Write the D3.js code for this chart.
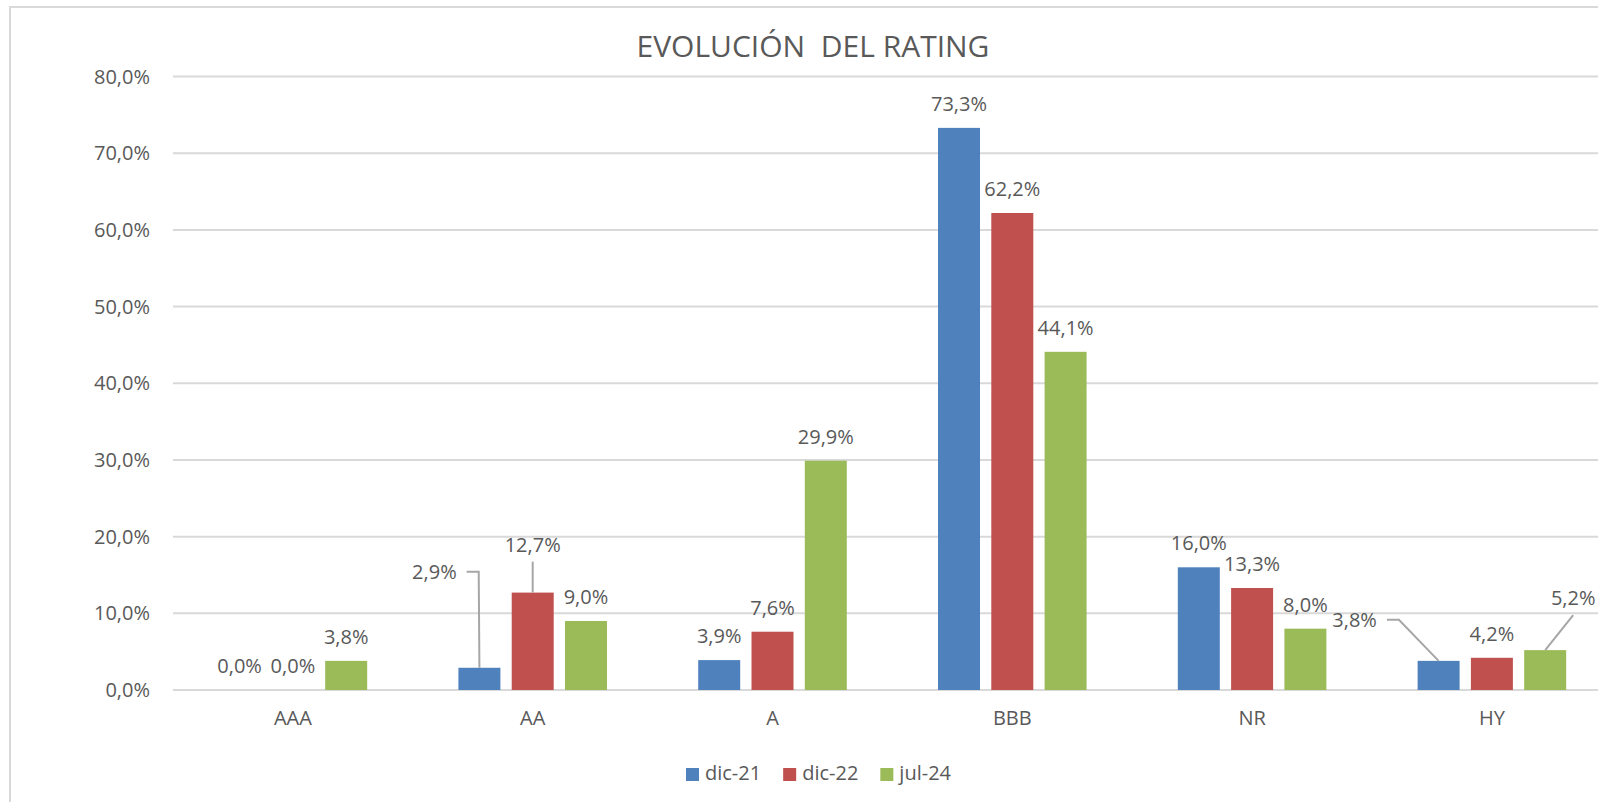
<!DOCTYPE html>
<html>
<head>
<meta charset="utf-8">
<script src="https://cdn.jsdelivr.net/npm/d3@7"></script>
<style>
    body { margin: 0; background: #fff; }
    text { font-family: "Open Sans", "Noto Sans", sans-serif; fill: #595959; }
</style>
</head>
<body>
<svg id="chart"></svg>
<script>
const categories = ["AAA", "AA", "A", "BBB", "NR", "HY"];
const seriesNames = ["dic-21", "dic-22", "jul-24"];
const dic21 = [0.0, 2.9, 3.9, 73.3, 16.0, 3.8];
const dic22 = [0.0, 12.7, 7.6, 62.2, 13.3, 4.2];
const jul24 = [3.8, 9.0, 29.9, 44.1, 8.0, 5.2];
const yTicks = [0, 10, 20, 30, 40, 50, 60, 70, 80];
const colors = ["#4f81bd", "#c0504d", "#9bbb59"];

// labels that Excel moved away from the bar, with a leader line
const movedLabels = [
    {cat: "AA", s: "dic-21", dx: -45, dy: -89, side: "left"},
    {cat: "AA", s: "dic-22", dx: 0, dy: -41, side: "top"},
    {cat: "HY", s: "dic-21", dx: -84, dy: -34, side: "left"},
    {cat: "HY", s: "jul-24", dx: 28, dy: -45, side: "top"}
];

const width = 1598;
const height = 802;
const seriesValues = [dic21, dic22, jul24];

const locale = d3.formatLocale({decimal: ",", thousands: ".", grouping: [3], currency: ["", "€"]});
const pct = v => locale.format(".1f")(v) + "%";

const svg = d3.select("#chart").attr("width", width).attr("height", height);

// chart area border
svg.append("rect")
    .attr("x", 10).attr("y", 7)
    .attr("width", 1640).attr("height", 820)
    .attr("fill", "#fff")
    .attr("stroke", "#d9d9d9")
    .attr("stroke-width", 2);

const x0 = d3.scaleBand().domain(categories).range([173, 173 + 6 * 239.8]);
const x1 = d3.scaleBand().domain(seriesNames).range([0, x0.bandwidth()])
    .paddingInner(0.212).paddingOuter(0.856);
const y = d3.scaleLinear().domain([0, 80]).range([690, 76.5]);

// gridlines
svg.append("g")
    .selectAll("line")
    .data(yTicks)
    .enter().append("line")
    .attr("x1", 173).attr("x2", width + 20)
    .attr("y1", d => y(d)).attr("y2", d => y(d))
    .attr("stroke", "#d9d9d9")
    .attr("stroke-width", 2);

// y tick labels
svg.append("g")
    .selectAll("text")
    .data(yTicks)
    .enter().append("text")
    .attr("x", 150)
    .attr("y", d => y(d))
    .attr("dy", "0.35em")
    .attr("text-anchor", "end")
    .style("font-size", "20px")
    .text(d => pct(d));

// x category labels
svg.append("g")
    .selectAll("text")
    .data(categories)
    .enter().append("text")
    .attr("x", d => x0(d) + x0.bandwidth() / 2)
    .attr("y", 725)
    .attr("text-anchor", "middle")
    .style("font-size", "20px")
    .text(d => d);

const points = [];
categories.forEach((c, i) => {
    seriesNames.forEach((s, j) => {
        points.push({cat: c, s: s, j: j, v: seriesValues[j][i]});
    });
});

const barX = d => x0(d.cat) + x1(d.s);
const barMid = d => barX(d) + x1.bandwidth() / 2;

svg.append("g")
    .selectAll("rect")
    .data(points)
    .enter().append("rect")
    .attr("x", barX)
    .attr("y", d => y(d.v))
    .attr("width", x1.bandwidth())
    .attr("height", d => y(0) - y(d.v))
    .attr("fill", d => colors[d.j]);

const labelGroup = svg.append("g");
const leaderGroup = svg.append("g");

points.forEach(d => {
    const move = movedLabels.find(m => m.cat === d.cat && m.s === d.s);
    const bx = barMid(d);
    const by = y(d.v);
    const lx = bx + (move ? move.dx : 0);
    const ly = by + (move ? move.dy : -17);
    const t = labelGroup.append("text")
        .attr("x", lx).attr("y", ly)
        .attr("text-anchor", "middle")
        .style("font-size", "20px")
        .text(pct(d.v));

    if (move) {
        const w = t.node().getComputedTextLength();
        let pts;
        if (move.side === "left") {
            const sx = lx + w / 2 + 10;
            const sy = ly - 7;
            pts = [[sx, sy], [sx + 12, sy], [bx, by]];
        } else {
            pts = [[lx, ly + 10], [bx, by]];
        }
        leaderGroup.append("path")
            .attr("d", d3.line()(pts))
            .attr("fill", "none")
            .attr("stroke", "#a6a6a6")
            .attr("stroke-width", 2);
    }
});

// title
svg.append("text")
    .attr("x", 813)
    .attr("y", 57)
    .attr("text-anchor", "middle")
    .attr("xml:space", "preserve")
    .style("font-size", "30px")
    .style("white-space", "pre")
    .text("EVOLUCIÓN  DEL RATING");

// legend
const legend = svg.append("g");
let lx = 0;
seriesNames.forEach((s, j) => {
    const item = legend.append("g").attr("transform", `translate(${lx},0)`);
    item.append("rect")
        .attr("x", 0).attr("y", -12)
        .attr("width", 13).attr("height", 13)
        .attr("fill", colors[j]);
    const t = item.append("text")
        .attr("x", 19).attr("y", 0)
        .style("font-size", "20px")
        .text(s);
    lx += 19 + t.node().getComputedTextLength() + 22;
});
const legendWidth = lx - 22;
legend.attr("transform", `translate(${818.5 - legendWidth / 2},780)`);
</script>
</body>
</html>
